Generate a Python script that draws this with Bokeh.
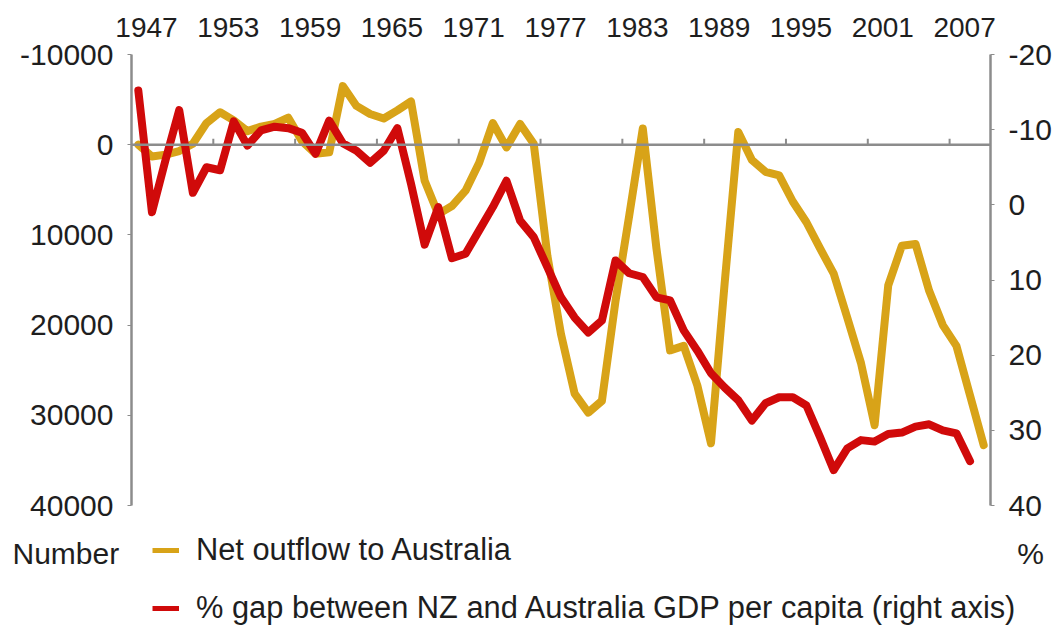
from bokeh.plotting import figure
from bokeh.layouts import column
from bokeh.models import (Range1d, LinearAxis, FixedTicker, Span, Legend, LegendItem,
                          Label, CustomJSTickFormatter)
from bokeh.embed import file_html
from bokeh.resources import INLINE

# ---- data -------------------------------------------------------------
years_outflow = list(range(1947, 2010))
net_outflow = [
    0, 1300, 1100, 700, -100, -2400, -3600, -2700, -1500, -2000,
    -2300, -3000, -400, 1000, 850, -6500, -4300, -3400, -2900, -3800,
    -4800, 4000, 7700, 6800, 5100, 2000, -2400, 300, -2300, -100,
    12300, 21000, 27600, 29700, 28400, 17300, 7900, -1800, 11500, 22800,
    22300, 26700, 33100, 15400, -1400, 1700, 3000, 3400, 6300, 8600,
    11500, 14300, 19200, 24200, 31100, 15600, 11200, 11000, 16200, 20000,
    22300, 27800, 33300,
]

years_gap = list(range(1947, 2009))
gdp_gap = [
    -15.2, 1.0, -6.0, -12.6, -1.6, -5.0, -4.6, -11.1, -7.9, -9.9,
    -10.4, -10.2, -9.6, -6.8, -11.2, -8.2, -7.2, -5.6, -7.2, -10.2,
    -2.8, 5.3, 0.3, 7.1, 6.5, 3.4, 0.3, -3.2, 2.1, 4.3,
    8.3, 12.3, 15.0, 17.0, 15.4, 7.4, 9.1, 9.6, 12.3, 12.7,
    16.7, 19.4, 22.4, 24.3, 26.0, 28.7, 26.4, 25.6, 25.6, 26.7,
    30.9, 35.3, 32.4, 31.3, 31.5, 30.5, 30.3, 29.5, 29.2, 30.0,
    30.4, 34.1,
]

tick_years = list(range(1947, 2008, 6))
left_ticks = [-10000, 0, 10000, 20000, 30000, 40000]
right_ticks = [-20, -10, 0, 10, 20, 30, 40]

series_names = ["Net outflow to Australia",
                "% gap between NZ and Australia GDP per capita (right axis)"]
left_unit = "Number"
right_unit = "%"

# ---- styling ---------------------------------------------------------
FONT = "Liberation Sans"
TXT = "#1e1e1e"
GREY = "#8c8c8c"
GOLD = "#D8A318"
RED = "#D00A0A"
LABEL_SHIFT = 0.6
W = 1054

p = figure(frame_width=859, frame_height=451,
           min_border_left=131, min_border_right=64,
           min_border_top=54, min_border_bottom=22,
           x_range=Range1d(years_outflow[0] - 0.5, years_outflow[-1] + 0.5),
           y_range=Range1d(40000, -10000),
           x_axis_location="above",
           output_backend="svg", toolbar_location=None)
p.frame_align = False
p.xgrid.visible = False
p.ygrid.visible = False
p.outline_line_color = None
p.background_fill_color = "white"
p.border_fill_color = "white"

p.extra_y_ranges = {"pct": Range1d(40, -20)}

# zero line and its small category ticks
p.add_layout(Span(location=0, dimension="width", line_color=GREY, line_width=2.5))
bounds = [y - 0.5 for y in tick_years[1:]]
p.segment(x0=bounds, y0=[0] * len(bounds), x1=bounds, y1=[-650] * len(bounds),
          line_color=GREY, line_width=2)

r1 = p.line(years_outflow, net_outflow, line_color=GOLD, line_width=8,
            line_join="round", line_cap="round")
r2 = p.line(years_gap, gdp_gap, line_color=RED, line_width=8,
            line_join="round", line_cap="round", y_range_name="pct")

# top x axis (labels only)
xa = p.xaxis[0]
xa.ticker = FixedTicker(ticks=[y + LABEL_SHIFT for y in tick_years])
xa.formatter = CustomJSTickFormatter(code="return String(Math.floor(tick));")
xa.axis_line_color = None
xa.major_tick_line_color = None
xa.minor_tick_line_color = None
xa.major_label_standoff = 12
xa.major_label_text_font = FONT
xa.major_label_text_font_size = "28px"
xa.major_label_text_color = TXT

# left axis
ya = p.yaxis[0]
ya.ticker = FixedTicker(ticks=left_ticks)
ya.formatter = CustomJSTickFormatter(code="return String(tick);")
ya.axis_line_color = GREY
ya.axis_line_width = 2.5
ya.major_tick_line_color = GREY
ya.major_tick_out = 4
ya.major_tick_in = 0
ya.minor_tick_line_color = None
ya.major_label_standoff = 14
ya.major_label_text_font = FONT
ya.major_label_text_font_size = "30px"
ya.major_label_text_color = TXT

# right axis
ra = LinearAxis(y_range_name="pct", ticker=FixedTicker(ticks=right_ticks),
                formatter=CustomJSTickFormatter(code="return String(tick);"))
ra.axis_line_color = GREY
ra.axis_line_width = 2.5
ra.major_tick_line_color = GREY
ra.major_tick_out = 4
ra.major_tick_in = 0
ra.minor_tick_line_color = None
ra.major_label_standoff = 14
ra.major_label_text_font = FONT
ra.major_label_text_font_size = "30px"
ra.major_label_text_color = TXT
p.add_layout(ra, "right")

# ---- legend strip below the chart -------------------------------------
H2 = 100
p2 = figure(width=W, height=H2, x_range=Range1d(0, W), y_range=Range1d(H2, 0),
            x_axis_type=None, y_axis_type=None,
            min_border=0, min_border_left=0, min_border_right=0,
            min_border_top=0, min_border_bottom=0,
            output_backend="svg", toolbar_location=None)
p2.frame_align = False
p2.xgrid.visible = False
p2.ygrid.visible = False
p2.outline_line_color = None
p2.background_fill_color = "white"
p2.border_fill_color = "white"

# legend swatch proxies (a single missing point: only the style is used)
nan = float("nan")
s1 = p2.line(x=[nan], y=[nan], line_color=GOLD, line_width=5)
s2 = p2.line(x=[nan], y=[nan], line_color=RED, line_width=5)

legend = Legend(items=[LegendItem(label=series_names[0], renderers=[s1]),
                       LegendItem(label=series_names[1], renderers=[s2])],
                location=(152, 1), orientation="vertical",
                glyph_width=27, glyph_height=34, label_height=34,
                label_standoff=17, spacing=22, padding=0, margin=0,
                border_line_color=None, background_fill_alpha=0,
                label_text_font=FONT, label_text_font_size="30.8px",
                label_text_color=TXT)
p2.add_layout(legend)

p2.add_layout(Label(x=12, y=26, text=left_unit, text_baseline="middle",
                    text_align="left", text_font=FONT, text_font_size="30px",
                    text_color=TXT))
p2.add_layout(Label(x=1030, y=26, text=right_unit, text_baseline="middle",
                    text_align="center", text_font=FONT, text_font_size="30px",
                    text_color=TXT))

layout = column(p, p2, spacing=0)
open("out.html", "w").write(file_html(layout, INLINE))
